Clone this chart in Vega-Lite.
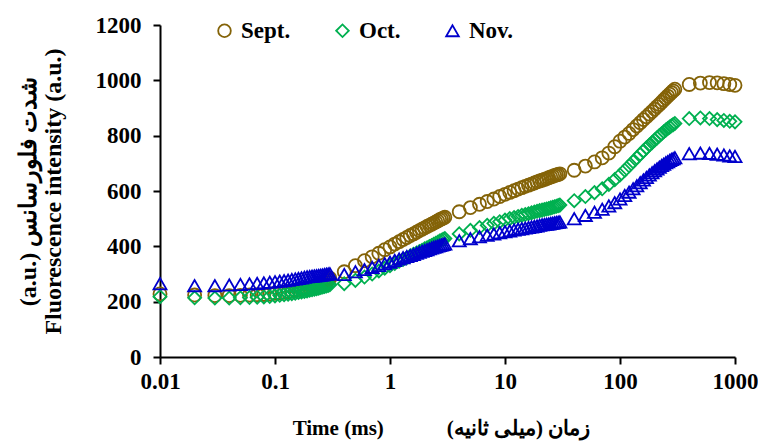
{
  "$schema": "https://vega.github.io/schema/vega-lite/v6.json",
  "width": 575,
  "height": 332,
  "autosize": {"type": "none"},
  "padding": {"left": 160, "top": 25, "right": 23, "bottom": 84},
  "background": "white",
  "config": {
    "view": {"stroke": null},
    "font": "Liberation Serif",
    "axis": {"labelFont": "Liberation Serif", "titleFont": "Liberation Serif", "labelFontWeight": "bold", "titleFontWeight": "bold", "labelColor": "black", "titleColor": "black", "domainColor": "black", "tickColor": "black", "domainWidth": 2, "tickWidth": 2, "tickSize": 7, "grid": false, "labelFontSize": 23, "titleFontSize": 21},
    "legend": {"labelFont": "Liberation Serif", "labelFontWeight": "bold", "labelFontSize": 23, "labelColor": "black"}
  },
  "data": {"values": [
    {"t":0.01,"Sept":228,"Oct":218,"Nov":265},
    {"t":0.02,"Sept":224,"Oct":214,"Nov":258},
    {"t":0.03,"Sept":222,"Oct":213,"Nov":258},
    {"t":0.04,"Sept":222,"Oct":213,"Nov":260},
    {"t":0.05,"Sept":223,"Oct":214,"Nov":262},
    {"t":0.06,"Sept":224,"Oct":215,"Nov":264},
    {"t":0.07,"Sept":225,"Oct":216,"Nov":266},
    {"t":0.08,"Sept":226,"Oct":217,"Nov":268},
    {"t":0.09,"Sept":228,"Oct":219,"Nov":270},
    {"t":0.1,"Sept":230,"Oct":221,"Nov":272},
    {"t":0.11,"Sept":232,"Oct":223,"Nov":274},
    {"t":0.12,"Sept":234,"Oct":225,"Nov":276},
    {"t":0.13,"Sept":236,"Oct":227,"Nov":278},
    {"t":0.14,"Sept":238,"Oct":229,"Nov":280},
    {"t":0.15,"Sept":240,"Oct":231,"Nov":282},
    {"t":0.16,"Sept":242,"Oct":233,"Nov":284},
    {"t":0.17,"Sept":244,"Oct":235,"Nov":286},
    {"t":0.18,"Sept":246,"Oct":237,"Nov":288},
    {"t":0.19,"Sept":248,"Oct":239,"Nov":290},
    {"t":0.2,"Sept":250,"Oct":241,"Nov":291},
    {"t":0.21,"Sept":253,"Oct":243,"Nov":292},
    {"t":0.22,"Sept":256,"Oct":245,"Nov":293},
    {"t":0.23,"Sept":259,"Oct":247,"Nov":294},
    {"t":0.24,"Sept":262,"Oct":249,"Nov":295},
    {"t":0.25,"Sept":265,"Oct":251,"Nov":296},
    {"t":0.26,"Sept":268,"Oct":253,"Nov":297},
    {"t":0.27,"Sept":272,"Oct":255,"Nov":298},
    {"t":0.28,"Sept":276,"Oct":257,"Nov":299},
    {"t":0.29,"Sept":280,"Oct":259,"Nov":300},
    {"t":0.3,"Sept":285,"Oct":261,"Nov":301},
    {"t":0.4,"Sept":308,"Oct":265,"Nov":298},
    {"t":0.5,"Sept":330,"Oct":277,"Nov":308},
    {"t":0.6,"Sept":348,"Oct":289,"Nov":316},
    {"t":0.7,"Sept":362,"Oct":300,"Nov":324},
    {"t":0.8,"Sept":375,"Oct":311,"Nov":331},
    {"t":0.9,"Sept":388,"Oct":321,"Nov":337},
    {"t":1,"Sept":398,"Oct":330,"Nov":343},
    {"t":1.1,"Sept":408,"Oct":338,"Nov":349},
    {"t":1.2,"Sept":417,"Oct":346,"Nov":354},
    {"t":1.3,"Sept":425,"Oct":353,"Nov":359},
    {"t":1.4,"Sept":432,"Oct":359,"Nov":363},
    {"t":1.5,"Sept":439,"Oct":365,"Nov":367},
    {"t":1.6,"Sept":445,"Oct":371,"Nov":371},
    {"t":1.7,"Sept":451,"Oct":376,"Nov":375},
    {"t":1.8,"Sept":457,"Oct":381,"Nov":379},
    {"t":1.9,"Sept":462,"Oct":386,"Nov":382},
    {"t":2,"Sept":467,"Oct":391,"Nov":385},
    {"t":2.1,"Sept":472,"Oct":395,"Nov":388},
    {"t":2.2,"Sept":476,"Oct":399,"Nov":391},
    {"t":2.3,"Sept":480,"Oct":403,"Nov":394},
    {"t":2.4,"Sept":484,"Oct":407,"Nov":397},
    {"t":2.5,"Sept":488,"Oct":411,"Nov":399},
    {"t":2.6,"Sept":492,"Oct":415,"Nov":401},
    {"t":2.7,"Sept":496,"Oct":419,"Nov":403},
    {"t":2.8,"Sept":499,"Oct":422,"Nov":405},
    {"t":2.9,"Sept":502,"Oct":425,"Nov":407},
    {"t":3,"Sept":505,"Oct":428,"Nov":409},
    {"t":4,"Sept":525,"Oct":445,"Nov":420},
    {"t":5,"Sept":540,"Oct":458,"Nov":428},
    {"t":6,"Sept":552,"Oct":468,"Nov":435},
    {"t":7,"Sept":562,"Oct":476,"Nov":440},
    {"t":8,"Sept":571,"Oct":483,"Nov":445},
    {"t":9,"Sept":580,"Oct":489,"Nov":449},
    {"t":10,"Sept":588,"Oct":495,"Nov":453},
    {"t":11,"Sept":595,"Oct":500,"Nov":456},
    {"t":12,"Sept":601,"Oct":504,"Nov":459},
    {"t":13,"Sept":607,"Oct":508,"Nov":462},
    {"t":14,"Sept":612,"Oct":512,"Nov":464},
    {"t":15,"Sept":617,"Oct":515,"Nov":466},
    {"t":16,"Sept":621,"Oct":518,"Nov":468},
    {"t":17,"Sept":625,"Oct":521,"Nov":470},
    {"t":18,"Sept":629,"Oct":524,"Nov":472},
    {"t":19,"Sept":633,"Oct":527,"Nov":474},
    {"t":20,"Sept":636,"Oct":529,"Nov":476},
    {"t":21,"Sept":639,"Oct":531,"Nov":478},
    {"t":22,"Sept":642,"Oct":533,"Nov":479},
    {"t":23,"Sept":645,"Oct":535,"Nov":480},
    {"t":24,"Sept":648,"Oct":537,"Nov":481},
    {"t":25,"Sept":651,"Oct":539,"Nov":483},
    {"t":26,"Sept":653,"Oct":541,"Nov":484},
    {"t":27,"Sept":656,"Oct":543,"Nov":485},
    {"t":28,"Sept":658,"Oct":545,"Nov":486},
    {"t":29,"Sept":660,"Oct":547,"Nov":487},
    {"t":30,"Sept":662,"Oct":549,"Nov":488},
    {"t":40,"Sept":675,"Oct":565,"Nov":500},
    {"t":50,"Sept":690,"Oct":580,"Nov":512},
    {"t":60,"Sept":705,"Oct":594,"Nov":523},
    {"t":70,"Sept":720,"Oct":608,"Nov":534},
    {"t":80,"Sept":737,"Oct":624,"Nov":546},
    {"t":90,"Sept":760,"Oct":641,"Nov":558},
    {"t":100,"Sept":780,"Oct":658,"Nov":571},
    {"t":110,"Sept":795,"Oct":675,"Nov":584},
    {"t":120,"Sept":808,"Oct":691,"Nov":596},
    {"t":130,"Sept":822,"Oct":706,"Nov":608},
    {"t":140,"Sept":835,"Oct":720,"Nov":619},
    {"t":150,"Sept":847,"Oct":733,"Nov":630},
    {"t":160,"Sept":858,"Oct":745,"Nov":640},
    {"t":170,"Sept":868,"Oct":756,"Nov":649},
    {"t":180,"Sept":878,"Oct":766,"Nov":658},
    {"t":190,"Sept":887,"Oct":775,"Nov":666},
    {"t":200,"Sept":896,"Oct":784,"Nov":673},
    {"t":210,"Sept":905,"Oct":792,"Nov":680},
    {"t":220,"Sept":913,"Oct":800,"Nov":686},
    {"t":230,"Sept":921,"Oct":807,"Nov":692},
    {"t":240,"Sept":929,"Oct":814,"Nov":697},
    {"t":250,"Sept":936,"Oct":820,"Nov":702},
    {"t":260,"Sept":943,"Oct":826,"Nov":706},
    {"t":270,"Sept":950,"Oct":831,"Nov":710},
    {"t":280,"Sept":956,"Oct":836,"Nov":714},
    {"t":290,"Sept":962,"Oct":840,"Nov":717},
    {"t":300,"Sept":968,"Oct":844,"Nov":720},
    {"t":400,"Sept":985,"Oct":862,"Nov":735},
    {"t":500,"Sept":990,"Oct":864,"Nov":737},
    {"t":600,"Sept":992,"Oct":862,"Nov":736},
    {"t":700,"Sept":991,"Oct":858,"Nov":733},
    {"t":800,"Sept":988,"Oct":855,"Nov":730},
    {"t":900,"Sept":985,"Oct":852,"Nov":727},
    {"t":1000,"Sept":982,"Oct":850,"Nov":725}
  ]},
  "transform": [{"fold": ["Sept", "Oct", "Nov"], "as": ["series", "value"]}],
  "mark": {"type": "point", "filled": false, "size": 170, "strokeWidth": 1.8, "opacity": 1},
  "encoding": {
    "x": {
      "field": "t", "type": "quantitative",
      "scale": {"type": "log", "domain": [0.01, 1000], "nice": false},
      "axis": {"values": [0.01, 0.1, 1, 10, 100, 1000], "format": "~g", "labelPadding": 6, "labelFlush": false, "titlePadding": 24, "titleX": 281, "titleAlign": "center",
        "title": "Time (ms)\u00a0\u00a0\u00a0\u00a0\u00a0\u00a0\u00a0\u00a0\u00a0\u00a0\u00a0\u00a0زمان (میلی ثانیه)\u200f"}
    },
    "y": {
      "field": "value", "type": "quantitative",
      "scale": {"domain": [0, 1200], "nice": false},
      "axis": {"values": [0, 200, 400, 600, 800, 1000, 1200], "format": "d", "labelPadding": 12, "titlePadding": 30, "titleFontSize": 24, "titleLineHeight": 25,
        "title": ["(a.u.) شدت فلورسانس", "Fluorescence intensity (a.u.)"]}
    },
    "color": {
      "field": "series", "type": "nominal",
      "scale": {"domain": ["Sept", "Oct", "Nov"], "range": ["#846308", "#00B050", "#0000CC"]},
      "legend": {"orient": "none", "legendX": 53, "legendY": -6, "direction": "horizontal", "title": null, "labelExpr": "datum.label + '.'", "columnPadding": 40, "labelOffset": 5, "symbolSize": 160, "symbolStrokeWidth": 1.8, "padding": 0}
    },
    "shape": {
      "field": "series", "type": "nominal",
      "scale": {"domain": ["Sept", "Oct", "Nov"], "range": ["circle", "diamond", "triangle-up"]}
    },
    "order": {"field": "series", "sort": "descending"}
  }
}
